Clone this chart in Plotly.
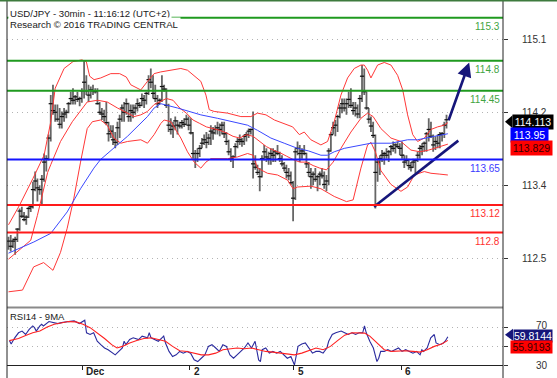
import plotly.graph_objects as go

# ---------------- data ----------------
title_lines = ["USD/JPY - 30min - 11:16:12 (UTC+2)", "Research \u00a9 2016 TRADING CENTRAL"]

highs = [112.75, 112.77, 112.73, 112.75, 112.85, 113.08, 113.10, 113.04, 113.00, 113.10,
         113.12, 113.39, 113.51, 113.43, 113.35, 113.47, 113.72, 113.70, 113.94, 114.40,
         114.52, 114.29, 114.29, 114.25, 114.21, 114.25, 114.23, 114.32, 114.44, 114.48,
         114.40, 114.44, 114.38, 114.48, 114.81, 114.63, 114.52, 114.50, 114.52, 114.48,
         114.48, 114.32, 114.25, 114.23, 114.32, 114.09, 114.05, 114.05, 113.97, 114.09,
         114.17, 114.29, 114.32, 114.36, 114.31, 114.29, 114.29, 114.29, 114.36, 114.32,
         114.42, 114.40, 114.44, 114.63, 114.71, 114.63, 114.52, 114.40, 114.36, 114.63,
         114.52, 114.48, 114.30, 114.13, 114.09, 114.15, 114.11, 114.09, 114.11, 114.13,
         114.17, 114.15, 114.13, 113.97, 113.76, 113.78, 113.82, 113.90, 113.94, 113.97,
         113.95, 114.05, 114.03, 114.05, 114.09, 114.07, 114.09, 114.09, 113.97, 113.88,
         113.78, 113.70, 113.84, 113.90, 113.94, 113.90, 113.94, 113.97, 114.01, 114.01,
         114.21, 113.70, 113.59, 113.55, 113.70, 113.82, 113.78, 113.74, 113.78, 113.78,
         113.76, 113.82, 113.74, 113.70, 113.62, 113.59, 113.55, 113.51, 113.40, 113.78,
         113.86, 113.82, 113.78, 113.82, 113.73, 113.62, 113.55, 113.51, 113.55, 113.47,
         113.51, 113.55, 113.51, 113.47, 113.78, 113.97, 114.09, 114.11, 114.17, 114.29,
         114.36, 114.36, 114.36, 114.44, 114.48, 114.32, 114.32, 114.29, 114.40, 114.75,
         114.71, 114.44, 114.25, 114.15, 114.09, 113.94, 113.66, 113.70, 113.76, 113.74,
         113.78, 113.76, 113.82, 113.86, 113.84, 113.86, 113.84, 113.86, 113.70, 113.70,
         113.66, 113.62, 113.66, 113.66, 113.74, 113.82, 113.84, 113.86, 113.97, 114.13,
         114.09, 113.94, 113.92, 113.94, 113.97, 113.97, 114.09, 114.17]

lows = [112.60, 112.58, 112.62, 112.54, 112.69, 112.82, 112.97, 112.93, 112.89, 112.97,
        113.04, 113.08, 113.28, 113.16, 113.24, 113.12, 113.39, 113.51, 113.64, 113.86,
        114.17, 114.09, 114.09, 114.01, 114.01, 114.09, 114.13, 114.19, 114.29, 114.29,
        114.29, 114.32, 114.27, 114.31, 114.36, 114.40, 114.32, 114.36, 114.40, 114.42,
        114.29, 114.17, 114.11, 114.09, 114.05, 113.86, 113.90, 113.82, 113.78, 113.82,
        113.90, 114.09, 114.09, 114.17, 114.09, 114.09, 114.13, 114.17, 114.21, 114.25,
        114.27, 114.25, 114.29, 114.40, 114.48, 114.36, 114.32, 114.25, 114.29, 114.32,
        114.44, 114.25, 113.97, 113.94, 113.90, 113.99, 113.94, 114.01, 114.01, 114.03,
        114.05, 113.99, 113.94, 113.66, 113.55, 113.62, 113.68, 113.78, 113.82, 113.78,
        113.82, 113.82, 113.88, 113.94, 113.94, 113.92, 113.94, 113.90, 113.82, 113.70,
        113.62, 113.55, 113.68, 113.78, 113.82, 113.80, 113.82, 113.86, 113.90, 113.94,
        113.43, 113.53, 113.47, 113.28, 113.44, 113.64, 113.62, 113.59, 113.59, 113.62,
        113.62, 113.70, 113.62, 113.57, 113.51, 113.43, 113.41, 113.35, 112.93, 113.18,
        113.70, 113.62, 113.66, 113.70, 113.55, 113.45, 113.31, 113.35, 113.39, 113.28,
        113.35, 113.43, 113.31, 113.28, 113.35, 113.74, 113.94, 113.92, 113.97, 114.13,
        114.19, 114.21, 114.17, 114.25, 114.25, 114.17, 114.15, 114.13, 114.13, 114.32,
        114.40, 114.23, 114.07, 113.97, 113.90, 113.08, 113.39, 113.47, 113.62, 113.59,
        113.66, 113.62, 113.70, 113.74, 113.72, 113.78, 113.70, 113.66, 113.55, 113.59,
        113.53, 113.51, 113.55, 113.49, 113.62, 113.66, 113.70, 113.74, 113.74, 113.86,
        113.90, 113.74, 113.76, 113.78, 113.78, 113.86, 113.90, 114.01]

closes = [112.70, 112.64, 112.70, 112.72, 112.84, 113.05, 112.99, 112.95, 112.98, 113.08,
          113.10, 113.30, 113.40, 113.32, 113.30, 113.42, 113.62, 113.66, 113.90, 114.30,
          114.22, 114.20, 114.12, 114.06, 114.15, 114.18, 114.20, 114.30, 114.36, 114.34,
          114.38, 114.35, 114.36, 114.45, 114.55, 114.45, 114.40, 114.46, 114.45, 114.44,
          114.30, 114.20, 114.18, 114.15, 114.08, 113.95, 113.98, 113.88, 113.85, 114.02,
          114.12, 114.25, 114.20, 114.30, 114.15, 114.22, 114.20, 114.25, 114.30, 114.28,
          114.36, 114.34, 114.42, 114.58, 114.55, 114.42, 114.36, 114.30, 114.34, 114.50,
          114.47, 114.28, 114.05, 114.00, 114.04, 114.10, 114.05, 114.04, 114.08, 114.06,
          114.12, 114.05, 113.96, 113.72, 113.65, 113.72, 113.78, 113.84, 113.88, 113.85,
          113.90, 113.98, 113.96, 114.00, 114.02, 114.00, 114.05, 113.95, 113.86, 113.74,
          113.66, 113.68, 113.80, 113.86, 113.88, 113.86, 113.92, 113.94, 113.98, 114.00,
          113.60, 113.56, 113.50, 113.45, 113.66, 113.74, 113.68, 113.66, 113.72, 113.70,
          113.74, 113.72, 113.66, 113.60, 113.55, 113.50, 113.46, 113.38, 113.20, 113.74,
          113.78, 113.72, 113.75, 113.72, 113.60, 113.50, 113.45, 113.48, 113.42, 113.45,
          113.48, 113.46, 113.36, 113.40, 113.75, 113.94, 114.02, 114.05, 114.15, 114.25,
          114.30, 114.25, 114.30, 114.35, 114.28, 114.22, 114.25, 114.18, 114.36, 114.62,
          114.44, 114.25, 114.12, 114.04, 113.93, 113.50, 113.62, 113.66, 113.70, 113.72,
          113.70, 113.74, 113.80, 113.78, 113.82, 113.80, 113.78, 113.70, 113.62, 113.64,
          113.58, 113.56, 113.62, 113.64, 113.70, 113.78, 113.80, 113.84, 113.95, 114.00,
          113.92, 113.82, 113.86, 113.84, 113.94, 113.95, 114.05, 114.113]
first_open = 112.68

# Bollinger bands (upper / middle / lower) and blue moving average
ub_x = [0, 5, 11, 16, 19, 21, 25, 29, 33, 35, 36.5, 38.5, 41.5, 46, 50, 53, 55, 59.5, 62.5, 65.5,
        68.5, 73, 77.5, 80.5, 83.5, 86.5, 88.8, 90.3, 92.5, 98.5, 104.5, 109, 112, 115.8, 119.6, 124,
        127.8, 130.8, 133, 136, 140.5, 143.5, 146.5, 149.5, 152.5, 155.5, 158.5, 160, 161.5, 163,
        166, 169, 172, 175, 177.3, 179.5, 181.8, 184, 187, 190, 193, 196, 197.6]
ub_y = [112.89, 113.12, 113.43, 113.70, 114.09, 114.48, 114.71, 114.79, 114.81, 114.79,
        114.62, 114.58, 114.60, 114.65, 114.65, 114.61, 114.52, 114.46, 114.56, 114.65,
        114.67, 114.69, 114.71, 114.69, 114.63, 114.56, 114.40, 114.23, 114.21, 114.19,
        114.15, 114.15, 114.19, 114.17, 114.11, 114.07, 114.03, 113.94, 113.97, 113.88,
        113.82, 113.86, 114.09, 114.40, 114.60, 114.71, 114.75, 114.75, 114.69, 114.60,
        114.75, 114.78, 114.75, 114.63, 114.46, 114.17, 113.94, 113.86, 113.90, 114.00,
        114.03, 114.05, 114.08]

mb_x = [0, 10, 13, 17.6, 19, 23.4, 28.7, 32.4, 35.4, 40, 44.4, 49, 53.5, 56.5, 59.5, 62.5, 65.5,
        68.5, 71, 74, 77, 80, 83, 86, 89, 92, 95, 98, 101, 104, 107, 110, 113, 116, 119, 122, 125,
        128, 131, 134, 137, 140, 143, 146, 149.5, 154, 158.5, 161.5, 164, 167.5, 172, 176.5, 181,
        185, 189, 193, 197.6]
mb_y = [112.49, 112.71, 113.00, 113.50, 113.59, 113.86, 114.09, 114.21, 114.32, 114.34,
        114.32, 114.25, 114.19, 114.15, 114.17, 114.21, 114.29, 114.33, 114.36, 114.34,
        114.25, 114.19, 114.11, 114.07, 114.03, 114.01, 113.99, 113.96, 113.92, 113.90,
        113.94, 113.92, 113.86, 113.80, 113.76, 113.73, 113.69, 113.65, 113.62, 113.62,
        113.58, 113.55, 113.53, 113.62, 113.78, 113.97, 114.13, 114.19, 114.15, 114.01,
        113.90, 113.86, 113.76, 113.74, 113.76, 113.79, 113.829]

lb_x = [0, 6.3, 11.3, 15.8, 20, 23.4, 26.4, 29.4, 32.4, 35.4, 37.7, 41.4, 44.4, 47.4, 50.5, 53.5,
        59.5, 62.5, 65.5, 68.5, 70, 73, 77.5, 80.5, 83.5, 86.5, 88.8, 91, 98.5, 103, 107.5, 110,
        112, 116.5, 121, 125.5, 128, 130, 136, 140.5, 146.5, 152, 155, 158.5, 161.5, 163, 165,
        167.5, 172, 176.5, 179.5, 182.5, 187, 190, 194, 197.6]
lb_y = [112.11, 112.13, 112.40, 112.45, 112.36, 112.57, 112.85, 113.20, 113.62, 114.01,
        114.09, 114.11, 114.05, 113.90, 113.84, 113.86, 113.88, 113.84, 113.94, 114.07,
        114.11, 114.09, 113.90, 113.74, 113.62, 113.55, 113.62, 113.66, 113.66, 113.68,
        113.72, 113.70, 113.55, 113.49, 113.47, 113.41, 113.31, 113.33, 113.34, 113.31,
        113.22, 113.16, 113.18, 113.55, 113.82, 113.85, 113.74, 113.52, 113.36, 113.28,
        113.33, 113.47, 113.51, 113.49, 113.48, 113.47]

ma_x = [0, 5.4, 11.4, 19, 26.4, 32.4, 38.4, 41.4, 46, 49, 53.5, 58, 62.5, 65.5, 68.5, 76, 86.5,
        94, 101.5, 107.5, 112, 118, 124, 130, 135, 140.5, 143.5, 146.5, 151, 155.5, 160, 163, 172,
        176.5, 179.5, 184, 188.5, 191.5, 197.6]
ma_y = [112.56, 112.62, 112.69, 112.79, 113.04, 113.31, 113.55, 113.65, 113.76, 113.82,
        113.92, 114.03, 114.15, 114.25, 114.30, 114.25, 114.17, 114.13, 114.09, 114.05,
        113.99, 113.90, 113.84, 113.78, 113.75, 113.70, 113.70, 113.74, 113.78, 113.80,
        113.82, 113.84, 113.84, 113.86, 113.88, 113.88, 113.90, 113.92, 113.95]

# horizontal support / resistance levels
levels = [115.3, 114.8, 114.45, 113.65, 113.12, 112.8]
level_labels = ["115.3", "114.8", "114.45", "113.65", "113.12", "112.8"]
level_kinds = ["res", "res", "res", "pivot", "sup", "sup"]

# trend line and forecast arrow
trend_x = [164.4, 202.3]
trend_y = [113.10, 113.87]
arrow_x = [197.7, 207.2]
arrow_y = [114.09, 114.78]

price_ticks = [112.5, 113.35, 114.2, 115.05]
price_tick_labels = ["112.5", "113.4", "114.2", "115.1"]

date_ticks = [33.2, 81.5, 128.4, 176.6]
date_labels = ["Dec", "2", "5", "6"]

# RSI(14) and its 9-period MA
rsi_x = [0.4, 1.2, 2.8, 4.5, 6.1, 7.7, 9.3, 10.9, 11.7, 12.5, 14.1, 14.9, 15.7, 17.4, 18.2, 22.2,
         23.8, 27.0, 29.5, 31.9, 34.3, 35.1, 36.7, 38.3, 39.9, 41.5, 43.2, 44.8, 47.2, 48.0, 49.6,
         51.2, 52.0, 52.8, 54.5, 56.1, 58.5, 60.1, 62.5, 63.3, 64.1, 65.7, 67.4, 69.0, 69.8, 70.6,
         72.2, 73.8, 75.4, 77.0, 78.6, 80.3, 81.9, 83.5, 85.1, 86.7, 88.3, 89.9, 91.5, 93.2, 94.8,
         96.4, 98.0, 99.6, 101.2, 102.8, 104.5, 106.1, 107.7, 109.3, 110.9, 111.7, 112.5, 113.3,
         114.1, 115.7, 117.3, 118.9, 120.6, 122.2, 123.8, 125.4, 127.0, 128.6, 130.2, 131.9, 133.5,
         135.1, 136.7, 138.3, 139.9, 141.5, 143.2, 144.0, 144.8, 145.6, 147.2, 149.6, 151.2, 152.8,
         154.5, 156.1, 157.7, 159.3, 160.1, 160.9, 162.5, 164.1, 165.7, 166.5, 167.4, 169.0, 170.6,
         172.2, 173.8, 175.4, 177.0, 178.6, 180.3, 181.9, 183.5, 185.1, 185.9, 186.7, 188.3, 189.9,
         191.5, 192.3, 194.0, 195.6, 196.4, 197.2, 197.6]
rsi_y = [55.7, 52.1, 58.6, 63.9, 65.7, 62.1, 67.5, 71.1, 69.3, 65.7, 71.1, 72.9, 71.1, 74.6, 75.7,
         73.6, 74.6, 75.7, 76.4, 73.6, 77.1, 63.9, 62.1, 63.9, 55.0, 51.4, 47.9, 46.1, 42.5, 40.7,
         44.3, 47.9, 55.0, 51.4, 56.8, 58.6, 56.8, 60.4, 58.6, 63.9, 58.6, 56.8, 55.0, 58.6, 60.4,
         53.2, 44.3, 38.9, 40.7, 44.3, 42.5, 44.3, 42.5, 35.4, 33.6, 37.1, 40.7, 49.6, 51.4, 47.9,
         44.3, 51.4, 49.6, 40.7, 37.1, 40.7, 44.3, 47.9, 53.2, 47.9, 55.0, 44.3, 35.4, 33.6, 46.1,
         47.9, 42.5, 44.3, 42.5, 44.3, 40.7, 37.1, 38.9, 30.0, 49.6, 52.1, 53.2, 47.9, 42.5, 44.3,
         44.3, 42.5, 47.9, 55.0, 58.6, 62.1, 63.9, 65.7, 63.9, 62.1, 63.9, 62.1, 63.9, 63.9, 71.1,
         63.9, 55.0, 47.9, 33.6, 37.1, 44.3, 44.3, 46.1, 44.3, 46.1, 47.9, 44.3, 46.1, 44.3, 42.5,
         44.3, 40.7, 46.1, 44.3, 47.9, 58.6, 62.1, 53.2, 51.4, 53.2, 55.0, 58.6, 59.8144]
rma_x = [0.4, 4.5, 7.7, 10.9, 14.1, 17.4, 20.6, 23.8, 27.0, 30.3, 33.5, 36.7, 39.9, 43.2, 46.4,
         48.8, 51.2, 54.5, 57.7, 60.9, 64.1, 67.4, 70.6, 73.8, 77.0, 80.3, 83.5, 86.7, 89.9, 93.2,
         96.4, 99.6, 102.8, 106.1, 109.3, 112.5, 115.7, 118.9, 122.2, 125.4, 128.6, 131.9, 135.1,
         138.3, 141.5, 144.8, 148.0, 151.2, 154.5, 157.7, 160.1, 162.5, 165.7, 169.0, 172.2, 175.4,
         178.6, 181.9, 185.1, 188.3, 191.5, 194.8, 197.6]
rma_y = [55.7, 57.9, 61.1, 63.9, 65.7, 70.0, 72.9, 74.6, 75.7, 75.4, 72.9, 69.3, 63.9, 57.9, 51.4,
         47.9, 49.6, 53.2, 55.7, 57.9, 58.6, 56.8, 55.0, 49.6, 45.0, 44.3, 42.5, 40.7, 40.7, 42.5,
         46.1, 47.1, 47.9, 47.1, 47.9, 46.1, 44.3, 43.6, 42.5, 41.4, 40.7, 42.5, 45.0, 47.9, 46.1,
         49.6, 55.7, 61.4, 63.9, 63.9, 63.6, 60.4, 53.2, 46.1, 44.3, 45.0, 45.0, 44.3, 43.6, 46.1,
         49.6, 52.1, 55.9193]
rsi_ticks = [30, 50, 70]
rsi_tick_labels = {30: "30", 70: "70"}

# ---------------- layout helpers (pixel geometry) ----------------
W, H = 557, 378
ML, MR, MT, MB = 7, 54, 2, 13
PW, PH = W - ML - MR, H - MT - MB


def xp(px):
    return (px - ML) / PW


def yp(px):
    return (H - MB - px) / PH


FONT = "Liberation Sans, Arial, sans-serif"
GREEN, GREEN_TXT = "#1f9a1f", "#3fa43f"
BLUE = "#1414ff"
RED = "#ff1a1a"
NAVY = "#16167a"
BAND_RED = "#ff3838"
MA_BLUE = "#3a48ff"
GRID_DASH = "1px,4px"

Y_RANGE = [111.933, 115.484]

N = len(closes)
idx = list(range(N))
opens = [first_open] + closes[:-1]

fig = go.Figure()
fig.add_trace(go.Ohlc(x=idx, open=opens, high=highs, low=lows, close=closes,
                      increasing=dict(line=dict(color="#666666", width=1.8)),
                      decreasing=dict(line=dict(color="#666666", width=1.8)),
                      tickwidth=0.45, hoverinfo="skip", xaxis="x", yaxis="y"))
fig.add_trace(go.Scatter(x=idx, y=closes, mode="markers", xaxis="x", yaxis="y",
                         marker=dict(symbol="line-ew", size=3, line=dict(color="#111", width=1.2)),
                         hoverinfo="skip"))
for bx, by in ((ub_x, ub_y), (mb_x, mb_y), (lb_x, lb_y)):
    fig.add_trace(go.Scatter(x=bx, y=by, mode="lines", line=dict(color=BAND_RED, width=1),
                             xaxis="x", yaxis="y", hoverinfo="skip"))
fig.add_trace(go.Scatter(x=ma_x, y=ma_y, mode="lines", line=dict(color=MA_BLUE, width=1),
                         xaxis="x", yaxis="y", hoverinfo="skip"))
fig.add_trace(go.Scatter(x=trend_x, y=trend_y, mode="lines", line=dict(color=NAVY, width=2.6),
                         xaxis="x", yaxis="y", hoverinfo="skip", cliponaxis=False))

# RSI panel
fig.add_trace(go.Scatter(x=rsi_x, y=rsi_y, mode="lines", line=dict(color="#2b2b9e", width=1.1),
                         xaxis="x2", yaxis="y2", hoverinfo="skip"))
fig.add_trace(go.Scatter(x=rma_x, y=rma_y, mode="lines", line=dict(color="#ff2020", width=1.1),
                         xaxis="x2", yaxis="y2", hoverinfo="skip"))

shapes = []
kind_col = {"res": GREEN, "pivot": BLUE, "sup": RED}
kind_txt = {"res": GREEN_TXT, "pivot": "#3a3aff", "sup": "#ff3030"}
for lv, kd in zip(levels, level_kinds):
    shapes.append(dict(type="line", xref="paper", yref="y", x0=0, x1=1, y0=lv, y1=lv,
                       line=dict(color=kind_col[kd], width=2), layer="above"))
# frame lines
shapes.append(dict(type="line", xref="paper", yref="paper", x0=0, x1=1, y0=yp(307.5), y1=yp(307.5),
                   line=dict(color="#8a8a8a", width=2), layer="above"))
shapes.append(dict(type="line", xref="paper", yref="paper", x0=0, x1=0, y0=yp(378), y1=yp(0),
                   line=dict(color="#222", width=1), layer="above"))
shapes.append(dict(type="line", xref="paper", yref="paper", x0=1, x1=1, y0=yp(378), y1=yp(1),
                   line=dict(color="#222", width=1), layer="above"))
shapes.append(dict(type="line", xref="paper", yref="paper", x0=xp(0), x1=xp(557), y0=yp(0.8), y1=yp(0.8),
                   line=dict(color="#3d7a3d", width=1.5), layer="above"))

last = closes[-1]
ma_last = ma_y[-1]
mb_last = mb_y[-1]
px_per_price = PH * (1 - yp(307)) / (Y_RANGE[1] - Y_RANGE[0])
dy = 6.5 / px_per_price
tip_y = last - 2 / px_per_price
shapes.append(dict(type="path", xref="paper", yref="y",
                   path=f"M {xp(505)},{tip_y} L {xp(512.5)},{tip_y + dy} L {xp(512.5)},{tip_y - dy} Z",
                   fillcolor="black", line=dict(width=0), layer="above"))
rsi_last = rsi_y[-1]
rsi_ma_last = rma_y[-1]
rdy = 6 / 0.95
rtip = rsi_last + 2.0
shapes.append(dict(type="path", xref="paper", yref="y2",
                   path=f"M {xp(505)},{rtip} L {xp(513)},{rtip + rdy} L {xp(513)},{rtip - rdy} Z",
                   fillcolor=NAVY, line=dict(width=0), layer="above"))

ann = []
# title block
ann.append(dict(xref="paper", yref="paper", x=xp(8), y=yp(13.5), xanchor="left", yanchor="middle",
                text=title_lines[0], showarrow=False, bgcolor="white", borderpad=1,
                font=dict(family=FONT, size=9.6, color="#1a1a1a")))
ann.append(dict(xref="paper", yref="paper", x=xp(8), y=yp(25), xanchor="left", yanchor="middle",
                text=title_lines[1], showarrow=False, bgcolor="white", borderpad=1,
                font=dict(family=FONT, size=9.6, color="#1a1a1a")))
ann.append(dict(xref="paper", yref="paper", x=xp(8), y=yp(316), xanchor="left", yanchor="middle",
                text="RSI14 - 9MA", showarrow=False, font=dict(family=FONT, size=9.5, color="#1a1a1a")))
# level labels
for lv, lab, kd in zip(levels, level_labels, level_kinds):
    ann.append(dict(xref="paper", yref="y", x=1, y=lv, xanchor="right", yanchor="top", yshift=-1, xshift=-1,
                    text=lab, showarrow=False, font=dict(family=FONT, size=10, color=kind_txt[kd])))
# price axis labels
for v, t in zip(price_ticks, price_tick_labels):
    ann.append(dict(xref="paper", yref="y", x=xp(549), y=v, xanchor="right", yanchor="middle",
                    text=t, showarrow=False, font=dict(family=FONT, size=10, color="#333")))
for v in rsi_ticks:
    if v in rsi_tick_labels:
        ann.append(dict(xref="paper", yref="y2", x=xp(550), y=v, xanchor="right", yanchor="middle",
                        yshift=2 if v == 70 else 0,
                        text=rsi_tick_labels[v], showarrow=False, font=dict(family=FONT, size=10, color="#333")))
# date labels
for v, t in zip(date_ticks, date_labels):
    ann.append(dict(xref="x2", yref="paper", x=v, y=yp(371), xanchor="left", yanchor="middle", xshift=2,
                    text=f"<b>{t}</b>", showarrow=False, font=dict(family=FONT, size=10, color="#222")))
# value boxes
ann.append(dict(xref="paper", yref="y", x=xp(512), y=last, xanchor="left", yanchor="middle", yshift=-2,
                text=f"{last:.3f}", showarrow=False, bgcolor="black", borderpad=1, width=38,
                font=dict(family=FONT, size=10.5, color="white")))
ann.append(dict(xref="paper", yref="y", x=xp(510), y=ma_last, xanchor="left", yanchor="middle", yshift=-1,
                text=f"{ma_last:.2f}", showarrow=False, bgcolor="#0000ff", borderpad=1, width=35,
                font=dict(family=FONT, size=10.5, color="white")))
ann.append(dict(xref="paper", yref="y", x=xp(510), y=mb_last, xanchor="left", yanchor="middle", yshift=-4,
                text=f"{mb_last:.3f}", showarrow=False, bgcolor="#ff0000", borderpad=1, width=39,
                font=dict(family=FONT, size=10.5, color="#3a0000")))
ann.append(dict(xref="paper", yref="y2", x=xp(513), y=rsi_last, xanchor="left", yanchor="middle", yshift=1,
                text=f"{rsi_last:.4f}", showarrow=False, bgcolor=NAVY, borderpad=0, width=38,
                font=dict(family=FONT, size=10.5, color="white")))
ann.append(dict(xref="paper", yref="y2", x=xp(510), y=rsi_ma_last, xanchor="left", yanchor="middle", yshift=-7,
                text=f"{rsi_ma_last:.4f}", showarrow=False, bgcolor="#ff0000", borderpad=0, width=41,
                font=dict(family=FONT, size=10.5, color="#3a0000")))
# forecast arrow
ann.append(dict(xref="x", yref="y", axref="x", ayref="y", x=arrow_x[1], y=arrow_y[1],
                ax=arrow_x[0], ay=arrow_y[0], showarrow=True, arrowhead=2, arrowsize=1.1,
                arrowwidth=2.6, arrowcolor=NAVY, text=""))

x_range = [-0.675, 222.4]
fig.update_layout(
    width=W, height=H, margin=dict(l=ML, r=MR, t=MT, b=MB),
    paper_bgcolor="white", plot_bgcolor="white", showlegend=False,
    shapes=shapes, annotations=ann,
    xaxis=dict(domain=[0, 1], range=x_range, showgrid=False, zeroline=False, showticklabels=False,
               rangeslider=dict(visible=False), anchor="y", showline=False, ticks=""),
    yaxis=dict(domain=[yp(307), 1], range=Y_RANGE, side="right", anchor="x",
               showgrid=True, gridcolor="#b4b4b4", griddash=GRID_DASH, gridwidth=1,
               tickvals=price_ticks, ticks="outside", ticklen=4, tickcolor="#333",
               showticklabels=False, zeroline=False, showline=False),
    xaxis2=dict(domain=[0, 1], range=x_range, matches="x", anchor="y2", showgrid=False, zeroline=False,
                tickvals=date_ticks, ticks="outside", ticklen=4, tickcolor="#222", showticklabels=False,
                showline=True, linecolor="#222", linewidth=1),
    yaxis2=dict(domain=[0, yp(308)], range=[30, 90], side="right", anchor="x2",
                showgrid=True, gridcolor="#b4b4b4", griddash=GRID_DASH, gridwidth=1,
                tickvals=rsi_ticks, ticks="outside", ticklen=4, tickcolor="#333",
                showticklabels=False, zeroline=False, showline=False),
)
fig.write_html("out.html", config={"displayModeBar": False},
               post_script="document.body.style.margin='0px';document.body.style.overflow='hidden';")
